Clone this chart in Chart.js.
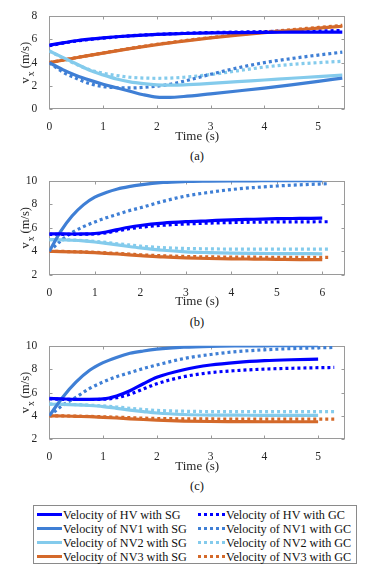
<!DOCTYPE html>
<html><head><meta charset="utf-8">
<script src="https://cdn.jsdelivr.net/npm/chart.js@4/dist/chart.umd.min.js"></script>
<style>
html,body{margin:0;padding:0;background:#fff;}
body{width:382px;height:573px;position:relative;overflow:hidden;font-family:"Liberation Serif",serif;color:#111;}
.pane{position:absolute;left:0;width:382px;}
.cap{position:absolute;left:0;width:394px;text-align:center;font-size:12.5px;line-height:14px;}
#legend{position:absolute;left:33px;top:505px;width:324px;height:59px;border:1px solid #8a8a8a;box-sizing:border-box;font-size:12.2px;}
.item{position:absolute;height:14px;line-height:14px;white-space:nowrap;}
.sample{position:absolute;top:5px;height:3px;}
.txt{position:absolute;top:0;}
</style></head>
<body>
<div class="pane" style="top:0px;height:144px"><canvas id="ca" width="382" height="144"></canvas></div>
<div class="cap" style="top:149px">(a)</div>
<div class="pane" style="top:165px;height:144px"><canvas id="cb" width="382" height="144"></canvas></div>
<div class="cap" style="top:315px">(b)</div>
<div class="pane" style="top:330px;height:144px"><canvas id="cc" width="382" height="144"></canvas></div>
<div class="cap" style="top:479px">(c)</div>
<div id="legend"></div>
<script>
// ---------- data ----------
const vehicles = ['HV', 'NV1', 'NV2', 'NV3'];
const methods = ['SG', 'GC'];

// panel (a)
const timeA_SG = [0,0.25,0.5,0.75,1,1.25,1.5,1.75,2,2.25,2.5,3,3.5,4,4.5,5,5.45];
const timeA_GC = [0,0.25,0.5,0.75,1,1.25,1.5,1.75,2,2.25,2.5,3,3.5,4,4.5,5,5.45];
const hvSG_a  = [5.5,5.7,5.88,6.02,6.13,6.22,6.3,6.36,6.42,6.46,6.5,6.55,6.58,6.6,6.61,6.62,6.62];
const hvGC_a  = [5.45,5.67,5.85,5.99,6.1,6.21,6.3,6.37,6.42,6.47,6.52,6.58,6.62,6.66,6.7,6.72,6.75];
const nv1SG_a = [4.0,3.4,2.9,2.5,2.15,1.85,1.55,1.25,1.05,1.02,1.1,1.33,1.57,1.82,2.1,2.4,2.68];
const nv1GC_a = [4.0,3.2,2.65,2.2,1.95,1.85,1.83,1.88,1.98,2.15,2.4,3.0,3.55,4.0,4.35,4.65,4.9];
const nv2SG_a = [5.0,4.45,3.9,3.35,2.95,2.6,2.35,2.2,2.1,2.08,2.1,2.22,2.37,2.51,2.66,2.8,2.94];
const nv2GC_a = [5.0,4.4,3.85,3.4,3.1,2.9,2.75,2.68,2.66,2.68,2.75,2.98,3.3,3.62,3.85,4.0,4.12];
const nv3SG_a = [4.0,4.21,4.42,4.62,4.82,5.01,5.2,5.38,5.55,5.7,5.85,6.12,6.36,6.58,6.78,6.96,7.12];
const nv3GC_a = [4.0,4.22,4.43,4.63,4.83,5.03,5.22,5.4,5.57,5.73,5.88,6.15,6.4,6.62,6.83,7.02,7.2];

// panel (b)
const timeB_SG = [0,0.25,0.5,0.75,1,1.25,1.5,1.75,2,2.5,3,3.5,4,4.5,5,5.5,6];
const timeB_GC = [0,0.25,0.5,0.75,1,1.25,1.5,1.75,2,2.5,3,3.5,4,4.5,5,5.5,6.15];
const hvSG_b  = [5.5,5.49,5.48,5.49,5.52,5.65,5.85,6.05,6.2,6.4,6.52,6.6,6.68,6.73,6.78,6.8,6.82];
const hvGC_b  = [5.45,5.45,5.45,5.46,5.48,5.58,5.75,5.92,6.05,6.22,6.33,6.4,6.45,6.48,6.5,6.51,6.52];
const nv1SG_b = [4.0,5.7,7.0,7.95,8.6,9.0,9.3,9.5,9.65,9.85,9.93,9.96,9.98,9.99,10,10,10];
const nv1GC_b = [4.0,4.9,5.6,6.1,6.5,6.85,7.15,7.45,7.7,8.25,8.7,9.0,9.25,9.42,9.55,9.65,9.75];
const nv2SG_b = [5.0,4.99,4.95,4.89,4.8,4.68,4.55,4.42,4.3,4.1,3.97,3.9,3.85,3.83,3.82,3.81,3.8];
const nv2GC_b = [5.0,4.99,4.97,4.92,4.85,4.76,4.65,4.55,4.45,4.32,4.25,4.22,4.2,4.2,4.2,4.2,4.2];
const nv3SG_b = [4.0,3.99,3.97,3.94,3.9,3.84,3.78,3.71,3.65,3.53,3.45,3.4,3.37,3.35,3.33,3.31,3.3];
const nv3GC_b = [4.0,4.0,3.98,3.96,3.93,3.88,3.83,3.78,3.72,3.63,3.57,3.54,3.52,3.51,3.5,3.5,3.5];

// panel (c)
const timeC_SG = [0,0.25,0.5,0.75,1,1.25,1.5,1.75,2,2.5,3,3.5,4,4.5,5];
const timeC_GC = [0,0.25,0.5,0.75,1,1.25,1.5,1.75,2,2.5,3,3.5,4,4.5,5,5.3];
const hvSG_c  = [5.5,5.45,5.42,5.42,5.45,5.7,6.15,6.75,7.3,7.95,8.35,8.58,8.72,8.8,8.85];
const hvGC_c  = [5.45,5.42,5.4,5.4,5.42,5.55,5.85,6.3,6.75,7.35,7.7,7.88,8.0,8.07,8.12,8.14];
const nv1SG_c = [4.0,5.6,6.9,7.9,8.55,9.0,9.35,9.55,9.7,9.87,9.95,9.98,9.99,10,10];
const nv1GC_c = [4.0,4.9,5.6,6.35,6.9,7.35,7.7,8.05,8.35,8.9,9.25,9.5,9.65,9.75,9.82,9.85];
const nv2SG_c = [5.0,4.99,4.95,4.89,4.8,4.65,4.5,4.37,4.25,4.12,4.07,4.06,4.05,4.05,4.05];
const nv2GC_c = [5.0,4.99,4.97,4.92,4.85,4.76,4.65,4.55,4.47,4.4,4.37,4.36,4.36,4.36,4.36,4.36];
const nv3SG_c = [4.0,3.99,3.96,3.93,3.88,3.82,3.75,3.69,3.64,3.56,3.52,3.51,3.5,3.5,3.5];
const nv3GC_c = [4.0,4.0,3.98,3.96,3.93,3.89,3.85,3.81,3.78,3.75,3.74,3.73,3.73,3.73,3.73,3.73];

const yTicksA = [0,2,4,6,8];
const yTicksBC = [2,4,6,8,10];

// ---------- styles ----------
const colors = {HV:'#0000ff', NV1:'#3f7fd5', NV2:'#84cbec', NV3:'#d4692a'};
const FONT = 'Liberation Serif';
Chart.defaults.font.family = FONT;
Chart.defaults.color = '#262626';

const matlabAxes = {
  id: 'matlabAxes',
  beforeDatasetsDraw(chart) {
    const {ctx, chartArea: a, scales: {x, y}} = chart;
    ctx.save();
    ctx.strokeStyle = '#9a9a9a';
    ctx.lineWidth = 1;
    const L = Math.round(a.left) + 0.5, R = Math.round(a.right) - 0.5;
    const T = Math.round(a.top) + 0.5, B = Math.round(a.bottom) - 0.5;
    ctx.strokeRect(L, T, R - L, B - T);
    const tl = 3;
    ctx.beginPath();
    x.ticks.forEach(t => {
      const px = Math.round(x.getPixelForValue(t.value)) + 0.5;
      ctx.moveTo(px, B); ctx.lineTo(px, B - tl);
      ctx.moveTo(px, T); ctx.lineTo(px, T + tl);
    });
    y.ticks.forEach(t => {
      const py = Math.round(y.getPixelForValue(t.value)) + 0.5;
      ctx.moveTo(L, py); ctx.lineTo(L + tl, py);
      ctx.moveTo(R, py); ctx.lineTo(R - tl, py);
    });
    ctx.stroke();
    ctx.restore();
  },
  afterDraw(chart) {
    const {ctx, chartArea: a} = chart;
    ctx.save();
    const cy = (a.top + a.bottom) / 2;
    ctx.translate(27, cy);
    ctx.rotate(-Math.PI / 2);
    ctx.fillStyle = '#262626';
    ctx.textBaseline = 'middle';
    const big = '12.5px "' + FONT + '"', small = '9.5px "' + FONT + '"';
    ctx.font = big; const w1 = ctx.measureText('v').width;
    ctx.font = small; const w2 = ctx.measureText('x').width;
    ctx.font = big; const w3 = ctx.measureText(' (m/s)').width;
    let x0 = -(w1 + 1 + w2 + w3) / 2;
    ctx.font = big; ctx.fillText('v', x0, -1);
    ctx.font = small; ctx.fillText('x', x0 + w1 + 1, 4);
    ctx.font = big; ctx.fillText(' (m/s)', x0 + w1 + 1 + w2, -1);
    ctx.restore();
  }
};

function pts(t, v) { return t.map((ti, i) => ({x: ti, y: v[i]})); }

function makePanel(id, tSG, tGC, sg, gc, yMin, yMax, xMax, padTop, plotBottom, canvasH) {
  const datasets = [];
  vehicles.forEach((veh, i) => {
    datasets.push({label: 'Velocity of ' + veh + ' with SG', data: pts(tSG, sg[i]),
      borderColor: colors[veh], borderWidth: 3.2, pointRadius: 0, cubicInterpolationMode: 'monotone', fill: false});
  });
  vehicles.forEach((veh, i) => {
    datasets.push({label: 'Velocity of ' + veh + ' with GC', data: pts(tGC, gc[i]),
      borderColor: colors[veh], borderWidth: 3.2, borderDash: [3, 3], borderCapStyle: 'butt',
      pointRadius: 0, cubicInterpolationMode: 'monotone', fill: false});
  });
  const tickFont = {family: FONT, size: 11.5};
  return new Chart(document.getElementById(id), {
    type: 'line',
    data: {datasets},
    plugins: [matlabAxes],
    options: {
      responsive: false, animation: false, devicePixelRatio: 1,
      layout: {padding: {top: padTop, right: 37, left: 0, bottom: 0}},
      plugins: {legend: {display: false}, tooltip: {enabled: false}},
      scales: {
        x: {type: 'linear', min: 0, max: xMax,
          grid: {display: false}, border: {display: false},
          ticks: {stepSize: 1, includeBounds: false, padding: 3, maxRotation: 0, font: tickFont, color: '#262626'},
          afterBuildTicks: s => { s.ticks = s.ticks.filter(t => Number.isInteger(t.value)); },
          title: {display: true, text: 'Time (s)', font: {family: FONT, size: 13}, color: '#262626', padding: {top: 0, bottom: 0}},
          afterFit: s => { s.height = canvasH - plotBottom; }
        },
        y: {type: 'linear', min: yMin, max: yMax,
          grid: {display: false}, border: {display: false},
          ticks: {stepSize: 2, padding: 4, font: tickFont, color: '#262626'},
          afterFit: s => { s.width = 49.3; }
        }
      }
    }
  });
}

function build() {
  makePanel('ca', timeA_SG, timeA_GC, [hvSG_a, nv1SG_a, nv2SG_a, nv3SG_a], [hvGC_a, nv1GC_a, nv2GC_a, nv3GC_a],
    yTicksA[0], yTicksA[yTicksA.length - 1], 5.5, 16, 109.3, 144);
  makePanel('cb', timeB_SG, timeB_GC, [hvSG_b, nv1SG_b, nv2SG_b, nv3SG_b], [hvGC_b, nv1GC_b, nv2GC_b, nv3GC_b],
    yTicksBC[0], yTicksBC[yTicksBC.length - 1], 6.5, 15.7, 110, 144);
  makePanel('cc', timeC_SG, timeC_GC, [hvSG_c, nv1SG_c, nv2SG_c, nv3SG_c], [hvGC_c, nv1GC_c, nv2GC_c, nv3GC_c],
    yTicksBC[0], yTicksBC[yTicksBC.length - 1], 5.5, 15.7, 109.3, 144);
}

// ---------- legend ----------
const lg = document.getElementById('legend');
methods.forEach((m, col) => {
  vehicles.forEach((veh, row) => {
    const it = document.createElement('div');
    it.className = 'item';
    it.style.left = (col === 0 ? 3 : 164) + 'px';
    it.style.top = (2 + row * 14) + 'px';
    const s = document.createElement('div');
    s.className = 'sample';
    s.style.left = '0px';
    s.style.width = (col === 0 ? 25 : 27) + 'px';
    if (m === 'SG') s.style.background = colors[veh];
    else s.style.background = 'repeating-linear-gradient(90deg,' + colors[veh] + ' 0 3px, transparent 3px 6px)';
    const tx = document.createElement('span');
    tx.className = 'txt';
    tx.style.left = (col === 0 ? 26 : 28) + 'px';
    tx.textContent = 'Velocity of ' + veh + ' with ' + m;
    it.appendChild(s); it.appendChild(tx);
    lg.appendChild(it);
  });
});

if (document.fonts && document.fonts.load) {
  Promise.all([document.fonts.load('11px "Liberation Serif"'), document.fonts.load('12px "Liberation Serif"')])
    .then(build, build);
} else {
  build();
}
</script>
</body></html>
